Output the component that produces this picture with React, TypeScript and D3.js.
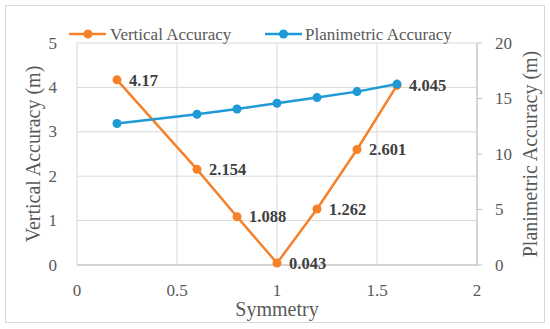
import React from "react";
import * as d3 from "d3";

const symmetry = [0.2, 0.6, 0.8, 1.0, 1.2, 1.4, 1.6];
const verticalAcc = [4.17, 2.154, 1.088, 0.043, 1.262, 2.601, 4.045];
const planimetricAcc = [12.75, 13.58, 14.05, 14.57, 15.08, 15.62, 16.3];
const xTicks = [0, 0.5, 1, 1.5, 2];
const xTickLabels = ["0", "0.5", "1", "1.5", "2"];
const leftTicks = [0, 1, 2, 3, 4, 5];
const rightTicks = [0, 5, 10, 15, 20];

const W = 550;
const H = 329;
const FONT = "'Liberation Serif', 'Times New Roman', serif";
const ORANGE = "#F5822A";
const BLUE = "#1E9AD6";
const GRID = "#D9D9D9";
const TXT = "#595959";

export default function App() {
  const m = { left: 77, right: 477, top: 43, bottom: 265 };
  const x = d3.scaleLinear().domain([0, 2]).range([m.left, m.right]);
  const yL = d3.scaleLinear().domain([0, 5]).range([m.bottom, m.top]);
  const yR = d3.scaleLinear().domain([0, 20]).range([m.bottom, m.top]);

  const vLine = d3.line<number>().x((_, i) => x(symmetry[i])).y((d) => yL(d));
  const pLine = d3.line<number>().x((_, i) => x(symmetry[i])).y((d) => yR(d));
  const cy = (m.top + m.bottom) / 2;

  return (
    <svg width={W} height={H} style={{ position: "absolute", left: 0, top: 0 }} fontFamily={FONT}>
      <rect x={0} y={0} width={W} height={H} fill="#fff" />
      <rect x={5.5} y={5.5} width={539} height={317} fill="#fff" stroke="#D9D9D9" strokeWidth={1} />
      {/* gridlines */}
      {leftTicks.map((t) => (
        <line key={"h" + t} x1={m.left} x2={m.right} y1={yL(t)} y2={yL(t)} stroke={GRID} strokeWidth={1} />
      ))}
      {xTicks.map((t) => (
        <line key={"v" + t} x1={x(t)} x2={x(t)} y1={m.top} y2={m.bottom} stroke={GRID} strokeWidth={1} />
      ))}
      {/* axes */}
      <line x1={m.left} x2={m.right} y1={m.bottom} y2={m.bottom} stroke="#BFBFBF" strokeWidth={1} />
      <line x1={m.right} x2={m.right} y1={m.top} y2={m.bottom} stroke="#BFBFBF" strokeWidth={1} />
      {rightTicks.map((t) => (
        <line key={"rt" + t} x1={m.right} x2={m.right + 5} y1={yR(t)} y2={yR(t)} stroke="#BFBFBF" strokeWidth={1} />
      ))}
      {/* tick labels */}
      {leftTicks.map((t) => (
        <text key={"lt" + t} x={57} y={yL(t)} dy="0.33em" textAnchor="end" fontSize={17} fill={TXT}>
          {t}
        </text>
      ))}
      {rightTicks.map((t) => (
        <text key={"rl" + t} x={495} y={yR(t)} dy="0.33em" textAnchor="start" fontSize={17} fill={TXT}>
          {t}
        </text>
      ))}
      {xTicks.map((t, i) => (
        <text key={"xl" + t} x={x(t)} y={290} dy="0.33em" textAnchor="middle" fontSize={17} fill={TXT}>
          {xTickLabels[i]}
        </text>
      ))}
      {/* axis titles */}
      <text x={x(1)} y={316} textAnchor="middle" fontSize={20} fill={TXT}>
        Symmetry
      </text>
      <text transform={`translate(40, ${cy}) rotate(-90)`} textAnchor="middle" fontSize={20} fill={TXT}>
        Vertical Accuracy  (m)
      </text>
      <text transform={`translate(537, ${cy}) rotate(-90)`} textAnchor="middle" fontSize={20} fill={TXT}>
        Planimetric Accuracy  (m)
      </text>
      {/* vertical series */}
      <path d={vLine(verticalAcc) || ""} fill="none" stroke={ORANGE} strokeWidth={2.5} />
      {verticalAcc.map((v, i) => (
        <circle key={"vc" + i} cx={x(symmetry[i])} cy={yL(v)} r={4.5} fill={ORANGE} />
      ))}
      {/* planimetric series */}
      <path d={pLine(planimetricAcc) || ""} fill="none" stroke={BLUE} strokeWidth={2.5} />
      {planimetricAcc.map((v, i) => (
        <circle key={"pc" + i} cx={x(symmetry[i])} cy={yR(v)} r={4.5} fill={BLUE} />
      ))}
      {/* data labels */}
      {verticalAcc.map((v, i) => (
        <text
          key={"dl" + i}
          x={x(symmetry[i]) + 12}
          y={yL(v)}
          dy="0.35em"
          fontSize={16.5}
          fontWeight="bold"
          fill="#404040"
        >
          {String(v)}
        </text>
      ))}
      {/* legend */}
      <line x1={69} x2={106} y1={34} y2={34} stroke={ORANGE} strokeWidth={2.5} />
      <circle cx={88} cy={34} r={4.5} fill={ORANGE} />
      <text x={110} y={34} dy="0.33em" fontSize={17} fill={TXT}>
        Vertical Accuracy
      </text>
      <line x1={265} x2={302} y1={34} y2={34} stroke={BLUE} strokeWidth={2.5} />
      <circle cx={283.5} cy={34} r={4.5} fill={BLUE} />
      <text x={305} y={34} dy="0.33em" fontSize={17} fill={TXT}>
        Planimetric Accuracy
      </text>
    </svg>
  );
}
